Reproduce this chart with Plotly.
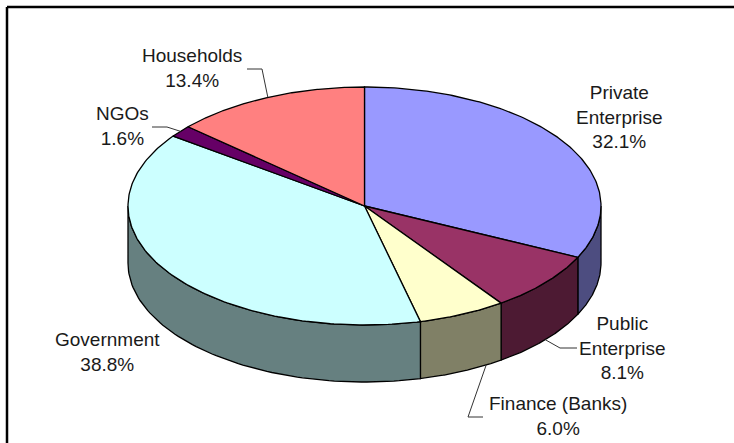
import numpy as np
import plotly.graph_objects as go

# Share of spending by sector (percent), clockwise from 12 o'clock
sectors = ["Private<br>Enterprise", "Public<br>Enterprise", "Finance (Banks)",
           "Government", "NGOs", "Households"]
shares = [32.1, 8.1, 6.0, 38.8, 1.6, 13.4]
top_colors = ["#9999FF", "#993366", "#FFFFCC", "#CCFFFF", "#660066", "#FF8080"]
side_colors = ["#4D4D80", "#4D1A33", "#808066", "#668080", "#330033", "#804040"]

# Label placement (pixel space) and optional leader elbows
label_pos = [(619, 116.5), (622, 348), (558, 416), (107, 351.5), (122, 125.5), (192, 68)]
leader_elbow = [None, [(560, 348), (577, 348)], [(468, 417), (483, 417)], None,
                [(167, 127), (152, 127)], [(262, 69), (247, 69)]]
# where each leader meets its slice, as a fraction of the slice's angular span
leader_anchor = [0.5, 0.5, 0.2, 0.5, 0.5, 0.5]

W, H = 734, 443
CX, CY = 364.5, 206.0   # centre of the top face
RA, RB = 236.5, 119.0   # ellipse semi-axes
DEPTH = 57.0            # thickness of the disc


def pt(theta_deg, dy=0.0):
    t = np.radians(theta_deg)
    return CX + RA * np.sin(t), CY - RB * np.cos(t) + dy


fig = go.Figure()

total = sum(shares)
bounds = np.concatenate([[0.0], np.cumsum(shares) / total * 360.0])

# Side walls (only the front half of the disc is visible)
for i in range(len(shares)):
    t0, t1 = max(bounds[i], 90.0), min(bounds[i + 1], 270.0)
    if t1 <= t0:
        continue
    th = np.linspace(t0, t1, 80)
    xt, yt = pt(th)
    xb, yb = pt(th[::-1], DEPTH)
    xs = np.concatenate([xt, xb, [xt[0]]])
    ys = np.concatenate([yt, yb, [yt[0]]])
    fig.add_trace(go.Scatter(x=xs, y=ys, mode="lines", fill="toself",
                             fillcolor=side_colors[i],
                             line=dict(color="black", width=1.3),
                             hoverinfo="skip", showlegend=False))

# Top faces
for i in range(len(shares)):
    th = np.linspace(bounds[i], bounds[i + 1], 160)
    xt, yt = pt(th)
    xs = np.concatenate([[CX], xt, [CX]])
    ys = np.concatenate([[CY], yt, [CY]])
    fig.add_trace(go.Scatter(x=xs, y=ys, mode="lines", fill="toself",
                             fillcolor=top_colors[i],
                             line=dict(color="black", width=1.3),
                             hoverinfo="skip", showlegend=False))

# Leader lines from each slice to its label
for i in range(len(shares)):
    if leader_elbow[i] is None:
        continue
    ang = bounds[i] + leader_anchor[i] * (bounds[i + 1] - bounds[i])
    on_side = 90.0 < ang < 270.0
    x0, y0 = pt(ang, DEPTH if on_side else 0.0)
    xs = [x0] + [p[0] for p in leader_elbow[i]]
    ys = [y0] + [p[1] for p in leader_elbow[i]]
    fig.add_trace(go.Scatter(x=xs, y=ys, mode="lines",
                             line=dict(color="#333333", width=1),
                             hoverinfo="skip", showlegend=False))

# Labels: name and percentage
for name, val, (lx, ly) in zip(sectors, shares, label_pos):
    fig.add_annotation(x=lx, y=ly, xref="x", yref="y", showarrow=False,
                       text=f"{name}<br>{val:.1f}%", align="center",
                       xanchor="center", yanchor="middle",
                       font=dict(family="Liberation Sans, Arial, sans-serif",
                                 size=19, color="#1a1a1a"))

# Frame around the chart (open to the right and bottom edges of the page)
fig.add_shape(type="line", xref="paper", yref="paper",
              x0=7 / W, y0=1 - 7 / H, x1=1.05, y1=1 - 7 / H,
              line=dict(color="black", width=2.5))
fig.add_shape(type="line", xref="paper", yref="paper",
              x0=7 / W, y0=1 - 7 / H, x1=7 / W, y1=-0.05,
              line=dict(color="black", width=2.5))

fig.update_xaxes(range=[0, W], visible=False, fixedrange=True)
fig.update_yaxes(range=[H, 0], visible=False, fixedrange=True)
fig.update_layout(width=W, height=H, margin=dict(l=0, r=0, t=0, b=0),
                  paper_bgcolor="white", plot_bgcolor="white")

fig.write_html("out.html", config={"displayModeBar": False})
